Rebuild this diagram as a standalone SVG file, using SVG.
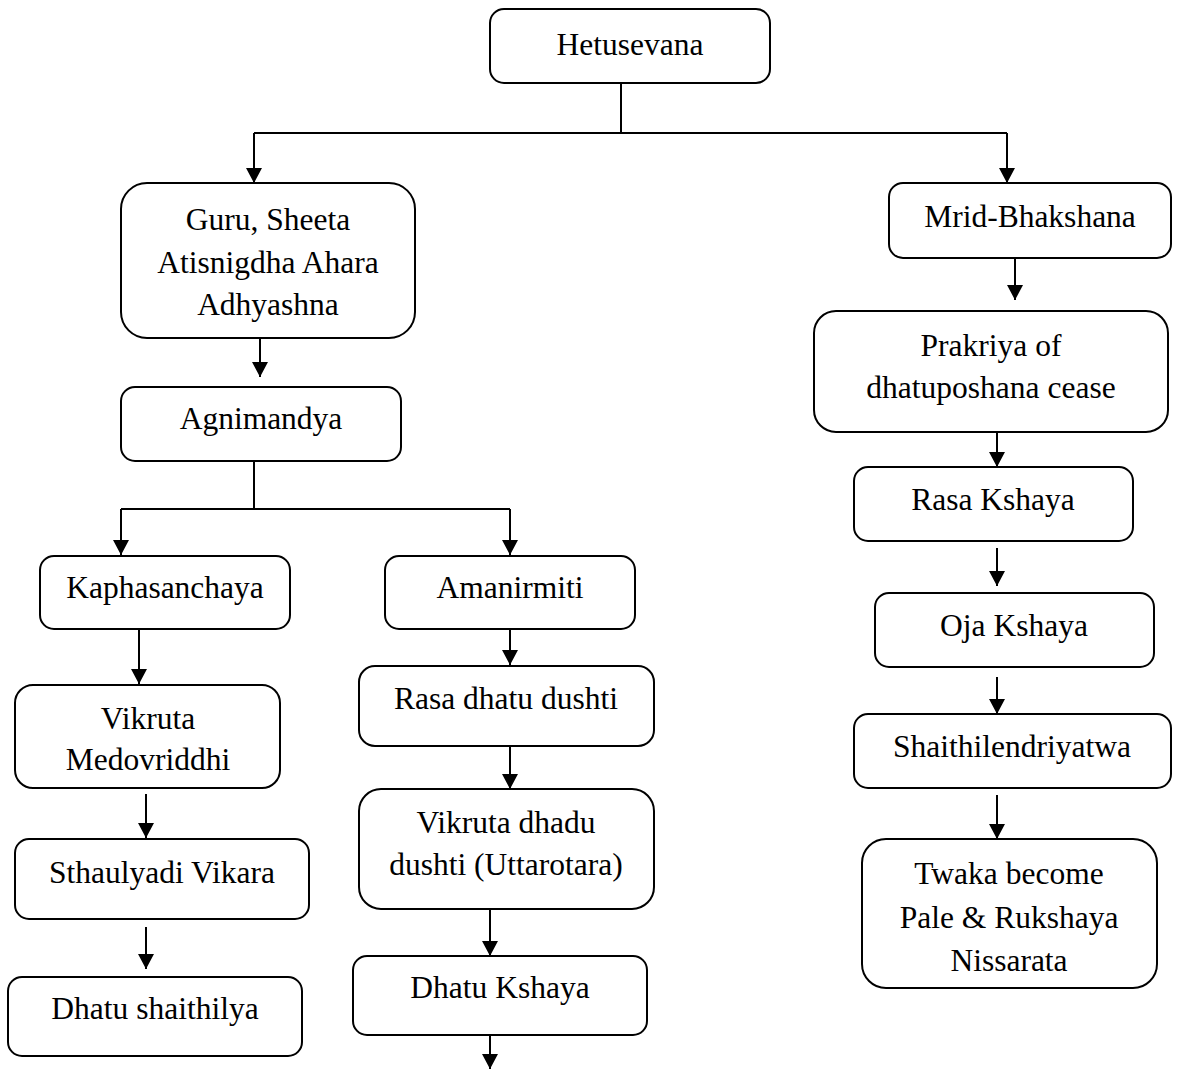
<svg xmlns="http://www.w3.org/2000/svg" width="1177" height="1069" viewBox="0 0 1177 1069">
<style>
.b{fill:#fff;stroke:#000;stroke-width:2}
.t{font-family:"Liberation Serif","Times New Roman",serif;font-size:31.5px;fill:#000;text-anchor:middle}
.c{fill:none;stroke:#000;stroke-width:2}
</style>
<defs>
<marker id="ah" markerUnits="userSpaceOnUse" markerWidth="16" markerHeight="16" viewBox="0 0 16 16" refX="15" refY="8" orient="auto">
<path d="M0,0 L15,8 L0,16 Z" fill="#000"/>
</marker>
</defs>
<rect width="1177" height="1069" fill="#fff"/>
<g id="connectors">
<path class="c" d="M621,83 V133"/>
<path class="c" d="M254,133 H1007"/>
<path class="c" d="M254,133 V183" marker-end="url(#ah)"/>
<path class="c" d="M1007,133 V183" marker-end="url(#ah)"/>
<path class="c" d="M1015,258 V300" marker-end="url(#ah)"/>
<path class="c" d="M997,432 V467" marker-end="url(#ah)"/>
<path class="c" d="M997,548 V586" marker-end="url(#ah)"/>
<path class="c" d="M997,677 V714" marker-end="url(#ah)"/>
<path class="c" d="M997,795 V839" marker-end="url(#ah)"/>
<path class="c" d="M260,338 V377" marker-end="url(#ah)"/>
<path class="c" d="M254,461 V509"/>
<path class="c" d="M121,509 H510"/>
<path class="c" d="M121,509 V555" marker-end="url(#ah)"/>
<path class="c" d="M510,509 V555" marker-end="url(#ah)"/>
<path class="c" d="M139,629 V684" marker-end="url(#ah)"/>
<path class="c" d="M510,629 V665" marker-end="url(#ah)"/>
<path class="c" d="M146,794 V838" marker-end="url(#ah)"/>
<path class="c" d="M146,927 V969" marker-end="url(#ah)"/>
<path class="c" d="M510,746 V789" marker-end="url(#ah)"/>
<path class="c" d="M490,909 V956" marker-end="url(#ah)"/>
<path class="c" d="M490,1035 V1069" marker-end="url(#ah)"/>
</g>
<g id="n-hetusevana">
<rect class="b" x="490" y="9" width="280" height="74" rx="14"/>
<text class="t" x="630" y="55">Hetusevana</text>
</g>
<g id="n-guru">
<rect class="b" x="121" y="183" width="294" height="155" rx="26"/>
<text class="t" x="268" y="230">Guru, Sheeta</text>
<text class="t" x="268" y="273">Atisnigdha Ahara</text>
<text class="t" x="268" y="315">Adhyashna</text>
</g>
<g id="n-mrid">
<rect class="b" x="889" y="183" width="282" height="75" rx="14"/>
<text class="t" x="1030" y="227">Mrid-Bhakshana</text>
</g>
<g id="n-prakriya">
<rect class="b" x="814" y="311" width="354" height="121" rx="22"/>
<text class="t" x="991" y="356">Prakriya of</text>
<text class="t" x="991" y="398">dhatuposhana cease</text>
</g>
<g id="n-rasakshaya">
<rect class="b" x="854" y="467" width="279" height="74" rx="14"/>
<text class="t" x="993" y="510">Rasa Kshaya</text>
</g>
<g id="n-oja">
<rect class="b" x="875" y="593" width="279" height="74" rx="14"/>
<text class="t" x="1014" y="636">Oja Kshaya</text>
</g>
<g id="n-shaithil">
<rect class="b" x="854" y="714" width="317" height="74" rx="14"/>
<text class="t" x="1012" y="757">Shaithilendriyatwa</text>
</g>
<g id="n-twaka">
<rect class="b" x="862" y="839" width="295" height="149" rx="24"/>
<text class="t" x="1009" y="884">Twaka become</text>
<text class="t" x="1009" y="928">Pale &amp; Rukshaya</text>
<text class="t" x="1009" y="971">Nissarata</text>
</g>
<g id="n-agnimandya">
<rect class="b" x="121" y="387" width="280" height="74" rx="14"/>
<text class="t" x="261" y="429">Agnimandya</text>
</g>
<g id="n-kapha">
<rect class="b" x="40" y="556" width="250" height="73" rx="14"/>
<text class="t" x="165" y="598">Kaphasanchaya</text>
</g>
<g id="n-ama">
<rect class="b" x="385" y="556" width="250" height="73" rx="14"/>
<text class="t" x="510" y="598">Amanirmiti</text>
</g>
<g id="n-vikruta-medo">
<rect class="b" x="15" y="685" width="265" height="103" rx="18"/>
<text class="t" x="148" y="729">Vikruta</text>
<text class="t" x="148" y="770">Medovriddhi</text>
</g>
<g id="n-rasadhatu">
<rect class="b" x="359" y="666" width="295" height="80" rx="16"/>
<text class="t" x="506" y="709">Rasa dhatu dushti</text>
</g>
<g id="n-sthaulya">
<rect class="b" x="15" y="839" width="294" height="80" rx="14"/>
<text class="t" x="162" y="883">Sthaulyadi Vikara</text>
</g>
<g id="n-vikruta-dhadu">
<rect class="b" x="359" y="789" width="295" height="120" rx="22"/>
<text class="t" x="506" y="833">Vikruta dhadu</text>
<text class="t" x="506" y="875">dushti (Uttarotara)</text>
</g>
<g id="n-dhatushaith">
<rect class="b" x="8" y="977" width="294" height="79" rx="14"/>
<text class="t" x="155" y="1019">Dhatu shaithilya</text>
</g>
<g id="n-dhatukshaya">
<rect class="b" x="353" y="956" width="294" height="79" rx="14"/>
<text class="t" x="500" y="998">Dhatu Kshaya</text>
</g>
</svg>
